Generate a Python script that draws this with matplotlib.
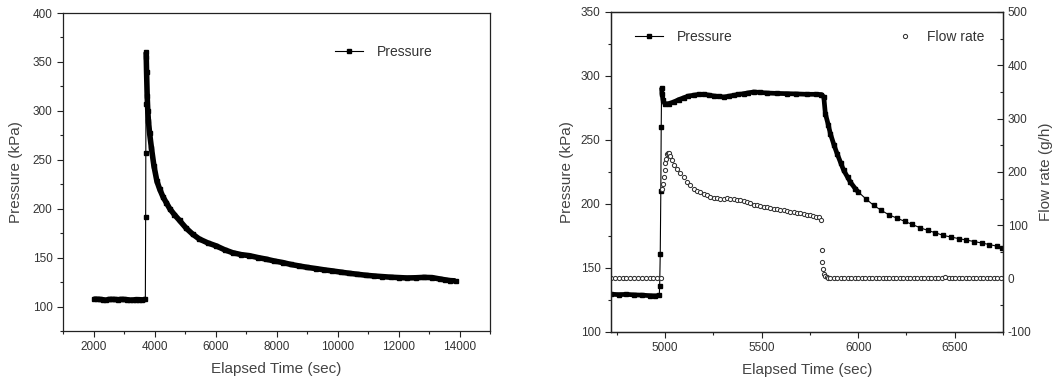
import numpy as np
import matplotlib
matplotlib.use('Agg')
import matplotlib.pyplot as plt
from matplotlib.ticker import MultipleLocator

plt.rcParams['font.family'] = ['Liberation Sans', 'DejaVu Sans']
plt.rcParams['axes.unicode_minus'] = False

# ---- left panel: pressure after shut-in ----
left_time = [2000, 2100, 2200, 2300, 2400, 2500, 2600, 2700, 2800, 2900, 3000, 3100,
             3200, 3300, 3400, 3500, 3600, 3700,
             3710, 3715, 3720, 3725, 3730, 3740, 3760, 3780, 3800, 3840, 3900, 3980,
             4080, 4170, 4280, 4390, 4500, 4650, 4820, 5040, 5250, 5470, 5750, 6020,
             6300, 6560, 6850, 7110, 7400, 7650, 7930, 8200, 8470, 8740, 9010, 9290,
             9560, 9830, 10100, 10380, 10650, 10920, 11200, 11470, 11740, 12010, 12280,
             12560, 12830, 13100, 13350, 13540, 13700, 13870]
left_pressure = [107.5, 107.5, 107.3, 107.0, 106.5, 107.2, 107.3, 107.2, 107.0, 107.3, 107.2, 107.0,
                 106.6, 106.7, 107.1, 107.0, 106.8, 107.2,
                 191, 257, 307, 360, 355, 340, 315, 300, 290, 277, 262, 244,
                 228, 220, 212, 206, 200, 194, 188, 180, 174, 169, 165, 162,
                 158, 155, 153, 152, 150, 148.5, 146.5, 145, 143, 141.5, 140, 138.8,
                 137.5, 136.4, 135.2, 134, 133, 132, 131.2, 130.6, 130, 129.6, 129.2,
                 129.4, 129.8, 129.6, 128.2, 127.2, 126.5, 126.2]

# ---- right panel: pressure and flow rate ----
right_time = [4720, 4760, 4800, 4840, 4880, 4920, 4950, 4970,
              4972, 4975, 4978, 4980, 4982, 4984, 4990, 5000, 5020, 5045, 5070, 5097,
              5120, 5148, 5175, 5200, 5230, 5252, 5280, 5304, 5330, 5356, 5380, 5407,
              5430, 5459, 5490, 5528, 5580, 5632, 5680, 5735, 5780, 5810, 5822, 5830,
              5845, 5856, 5875, 5891, 5910, 5925, 5945, 5960, 5985, 6000,
              6040, 6080, 6120, 6160, 6200, 6240, 6280, 6320, 6360, 6400, 6440, 6480,
              6520, 6560, 6600, 6640, 6680, 6720, 6745]
right_pressure = [129.5, 129.2, 129.4, 129.0, 128.8, 128.4, 128.2, 128.6,
                  136, 161, 210, 260, 291, 286, 281, 278, 278.5, 279.7, 281.5, 283,
                  284.3, 285, 285.6, 285.7, 285, 284.4, 284, 283.6, 284.2, 284.9, 285.6, 286.2,
                  286.8, 287.5, 287.2, 286.7, 286.4, 286.2, 286, 285.7, 285.7, 285.5, 283.6, 270.6,
                  262, 255, 246, 239.3, 232, 226.3, 221, 217, 212, 209.5,
                  204, 199, 195, 191.5, 189, 186.5, 184, 181.5, 179.4, 177.5, 175.5, 174.2,
                  173, 171.8, 170.7, 169.5, 168.3, 167, 166]

flow_time = [4720, 4740, 4760, 4780, 4800, 4820, 4840, 4860, 4880, 4900, 4920, 4940, 4960, 4980,
             4986, 4990, 4994, 4998, 5002, 5006, 5010, 5015, 5020, 5026, 5036, 5048, 5062,
             5078, 5097, 5114, 5131, 5150, 5166, 5183, 5200, 5218, 5235, 5252, 5270, 5287,
             5304, 5321, 5338, 5355, 5372, 5390, 5407, 5424, 5441, 5459, 5476, 5493, 5510,
             5528, 5545, 5562, 5580, 5597, 5614, 5631, 5648, 5666, 5683, 5700, 5718, 5736,
             5752, 5768, 5784, 5796, 5810,
             5813, 5814, 5816, 5822, 5830, 5836, 5845, 5856,
             5874, 5892, 5910, 5928, 5946, 5964, 5982, 6000, 6018, 6036, 6054, 6072, 6090,
             6108, 6126, 6144, 6162, 6180, 6198, 6216, 6234, 6252, 6270, 6288, 6306, 6324,
             6342, 6360, 6378, 6396, 6414, 6432, 6450, 6468, 6486, 6504, 6522, 6540, 6558,
             6576, 6594, 6612, 6630, 6648, 6666, 6684, 6702, 6720, 6738]
flow_rate = [1, 1, 1, 1, 1, 1, 1, 1, 1, 1, 1, 1, 1, 1,
             169, 178, 190, 203, 216, 225, 233, 235.5, 236, 230, 222, 214, 206,
             198, 190, 182, 175, 169, 165, 162, 159, 156, 153, 151.5, 150.5, 150,
             150.3, 150.6, 149.5, 148.5, 147.6, 146.7, 145, 143, 141, 139, 137.8, 136.5, 135.2,
             134, 132.7, 131.5, 130.2, 129, 128, 126.8, 125.8, 124.7, 123.5, 122.4, 121.2, 120,
             119, 117.7, 116.5, 115.4, 110.5,
             53, 31, 18.5, 9, 5, 3, 1.5, 1,
             1, 1, 1, 1, 1, 1, 1, 1, 1, 1, 1, 1, 1,
             1, 1, 1, 1, 1, 1, 1, 1, 1, 1, 1, 1, 1,
             1, 1, 1, 1, 1, 1, 4, 1, 1, 1, 1, 1, 1,
             1, 1, 1, 1, 1, 1, 1, 1, 1, 1]

TXT = '#333333'
W, H = 1054, 382

fig = plt.figure(figsize=(10.54, 3.82), dpi=100)
ax1 = fig.add_axes([63 / W, 1 - 331 / H, (490 - 63) / W, 318 / H])
ax2 = fig.add_axes([611 / W, 1 - 332 / H, (1003 - 611) / W, 320 / H])
ax3 = ax2.twinx()


def style(ax, direction='out'):
    for s in ax.spines.values():
        s.set_color('#222222')
        s.set_linewidth(0.9)
    ax.tick_params(which='both', direction=direction, width=0.8, colors='#222222',
                   labelcolor=TXT, labelsize=8.5)
    ax.tick_params(which='major', length=4)
    ax.tick_params(which='minor', length=2.5)


# left panel
t1 = np.array(left_time)
p1 = np.array(left_pressure)
dense1 = (t1 <= 3700) | (t1 >= 3725)
ax1.plot(t1, np.ma.masked_where(~dense1, p1), color='black', lw=4.0, solid_capstyle='butt')
ax1.plot(t1, p1, color='black', lw=0.8, marker='s', ms=3, label='Pressure')
ax1.set_xlim(1000, 15000)
ax1.set_ylim(75, 400)
ax1.xaxis.set_major_locator(MultipleLocator(2000))
ax1.xaxis.set_minor_locator(MultipleLocator(1000))
ax1.yaxis.set_minor_locator(MultipleLocator(25))
ax1.set_yticks([100, 150, 200, 250, 300, 350, 400])
style(ax1)
ax1.set_xlabel('Elapsed Time (sec)', fontsize=11, color='#444444', labelpad=6)
ax1.set_ylabel('Pressure (kPa)', fontsize=11, color='#444444', labelpad=7)
ax1.legend(loc='center left', bbox_to_anchor=(335 / W, 1 - 52 / H),
           bbox_transform=fig.transFigure, frameon=False, fontsize=10,
           handlelength=2, handletextpad=1.0, borderpad=0, borderaxespad=0,
           labelcolor=TXT)

# right panel
t2 = np.array(right_time)
p2 = np.array(right_pressure)
dense2 = (t2 <= 4970) | ((t2 >= 4982) & (t2 <= 6000))
ax2.plot(t2, np.ma.masked_where(~dense2, p2), color='black', lw=3.4, solid_capstyle='butt')
ax2.plot(t2, p2, color='black', lw=0.8, marker='s', ms=3, label='Pressure')
ax3.plot(flow_time, flow_rate, ls='none', marker='o', ms=3.0, mfc='white',
         mec='#333333', mew=0.75, label='Flow rate')
ax2.set_xlim(4720, 6750)
ax2.set_ylim(100, 350)
ax3.set_ylim(-100, 500)
ax2.xaxis.set_major_locator(MultipleLocator(500))
ax2.xaxis.set_minor_locator(MultipleLocator(250))
ax2.yaxis.set_major_locator(MultipleLocator(50))
ax2.yaxis.set_minor_locator(MultipleLocator(25))
ax3.yaxis.set_major_locator(MultipleLocator(100))
ax3.yaxis.set_minor_locator(MultipleLocator(50))
style(ax2)
style(ax3, direction='in')
ax3.tick_params(axis='y', which='both', pad=3.5)
ax2.set_xlabel('Elapsed Time (sec)', fontsize=11, color='#444444', labelpad=6)
ax2.set_ylabel('Pressure (kPa)', fontsize=11, color='#444444', labelpad=5)
ax3.set_ylabel('Flow rate (g/h)', fontsize=11, color='#444444', labelpad=5)
ax2.legend(loc='center left', bbox_to_anchor=(635 / W, 1 - 37 / H),
           bbox_transform=fig.transFigure, frameon=False, fontsize=10,
           handlelength=2, handletextpad=1.0, borderpad=0, borderaxespad=0,
           labelcolor=TXT)
ax3.legend(loc='center left', bbox_to_anchor=(898 / W, 1 - 37 / H),
           bbox_transform=fig.transFigure, frameon=False, fontsize=10,
           handlelength=1, handletextpad=1.1, borderpad=0, borderaxespad=0,
           labelcolor=TXT)

fig.savefig('out.png', dpi=100)
